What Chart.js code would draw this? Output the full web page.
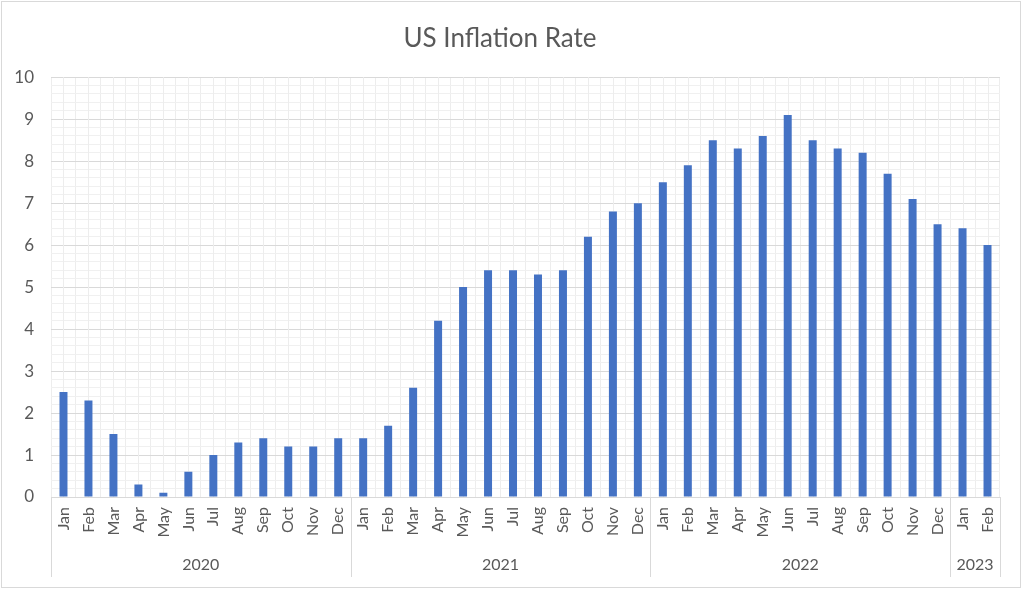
<!DOCTYPE html>
<html>
<head>
<meta charset="utf-8">
<title>US Inflation Rate</title>
<script src="https://cdn.jsdelivr.net/npm/chart.js@4/dist/chart.umd.min.js"></script>
<style>
  html, body { margin: 0; padding: 0; background: #fff; }
  #wrap { width: 1023px; height: 590px; position: relative; }
</style>
</head>
<body>
<div id="wrap"><canvas id="chart"></canvas></div>
<script>
// monthly CPI inflation, %
const months = ["Jan", "Feb", "Mar", "Apr", "May", "Jun", "Jul", "Aug", "Sep", "Oct", "Nov", "Dec"];
const years = ["2020", "2021", "2022", "2023"];
const monthsPerYear = [12, 12, 12, 2];
const rate2020 = [2.5, 2.3, 1.5, 0.3, 0.1, 0.6, 1.0, 1.3, 1.4, 1.2, 1.2, 1.4];
const rate2021 = [1.4, 1.7, 2.6, 4.2, 5.0, 5.4, 5.4, 5.3, 5.4, 6.2, 6.8, 7.0];
const rate2022 = [7.5, 7.9, 8.5, 8.3, 8.6, 9.1, 8.5, 8.3, 8.2, 7.7, 7.1, 6.5];
const rate2023 = [6.4, 6.0];

const labels = [];
monthsPerYear.forEach(n => labels.push(...months.slice(0, n)));
const values = [...rate2020, ...rate2021, ...rate2022, ...rate2023];

const textColor = "#595959";
const fontFamily = "Lato, 'Open Sans', sans-serif";

const isWhole = v => Math.abs(v - Math.round(v)) < 1e-6;

// light vertical lines through each bar centre, like the Excel minor grid
const centreLines = {
  id: "centreLines",
  beforeDatasetsDraw(chart) {
    const { ctx, chartArea, scales } = chart;
    ctx.save();
    ctx.strokeStyle = "#ededed";
    ctx.lineWidth = 1;
    labels.forEach((_, i) => {
      const x = Math.round(scales.x.getPixelForValue(i)) + 0.5;
      ctx.beginPath();
      ctx.moveTo(x, chartArea.top);
      ctx.lineTo(x, chartArea.bottom);
      ctx.stroke();
    });
    ctx.restore();
  }
};

// year row under the month labels
const yearGroups = {
  id: "yearGroups",
  afterDraw(chart) {
    const { ctx, chartArea, scales } = chart;
    const x = scales.x;
    const half = (x.getPixelForValue(1) - x.getPixelForValue(0)) / 2;
    const bottom = chart.height - 13;
    ctx.save();
    ctx.strokeStyle = "#d9d9d9";
    ctx.lineWidth = 1;
    ctx.fillStyle = textColor;
    ctx.font = "16px " + fontFamily;
    ctx.textAlign = "center";
    ctx.textBaseline = "middle";
    let start = 0;
    years.forEach((yr, g) => {
      const end = start + monthsPerYear[g] - 1;
      const left = x.getPixelForValue(start) - half;
      const right = x.getPixelForValue(end) + half;
      [left, right].forEach(px => {
        const lx = Math.round(px) + 0.5;
        ctx.beginPath();
        ctx.moveTo(lx, chartArea.bottom);
        ctx.lineTo(lx, bottom);
        ctx.stroke();
      });
      ctx.fillText(yr, (left + right) / 2, chart.height - 25);
      start = end + 1;
    });
    // outer chart border
    ctx.strokeStyle = "#d9d9d9";
    ctx.strokeRect(1.5, 1.5, chart.width - 4, chart.height - 4);
    ctx.restore();
  }
};

new Chart(document.getElementById("chart"), {
  type: "bar",
  data: {
    labels,
    datasets: [{
      label: "Inflation rate",
      data: values,
      backgroundColor: "#4472C4",
      barPercentage: 0.32,
      categoryPercentage: 1
    }]
  },
  options: {
    responsive: true,
    maintainAspectRatio: false,
    animation: false,
    devicePixelRatio: 1,
    layout: { padding: { left: 0, right: 23, top: 0, bottom: 0 } },
    plugins: {
      legend: { display: false },
      tooltip: { enabled: false },
      title: {
        display: true,
        text: "US Inflation Rate",
        color: textColor,
        font: { family: fontFamily, size: 26, weight: "normal" },
        padding: { top: 23, bottom: 23 }
      }
    },
    scales: {
      x: {
        grid: { color: "#ededed", offset: true, drawTicks: false },
        border: { color: "#d9d9d9" },
        ticks: {
          color: textColor,
          font: { family: fontFamily, size: 16 },
          minRotation: 90,
          maxRotation: 90,
          autoSkip: false,
          padding: 10
        },
        afterFit(s) { s.height = 93; }
      },
      y: {
        min: 0,
        max: 10,
        grid: {
          drawTicks: false,
          color: ctx => isWhole(ctx.tick.value) ? "#d9d9d9" : "#f0f0f0"
        },
        border: { display: false },
        ticks: {
          stepSize: 0.2,
          autoSkip: false,
          padding: 17,
          color: textColor,
          font: { family: fontFamily, size: 17 },
          callback: v => isWhole(v) ? String(Math.round(v)) : ""
        },
        afterFit(s) { s.width = 51; }
      }
    }
  },
  plugins: [centreLines, yearGroups]
});
</script>
</body>
</html>
